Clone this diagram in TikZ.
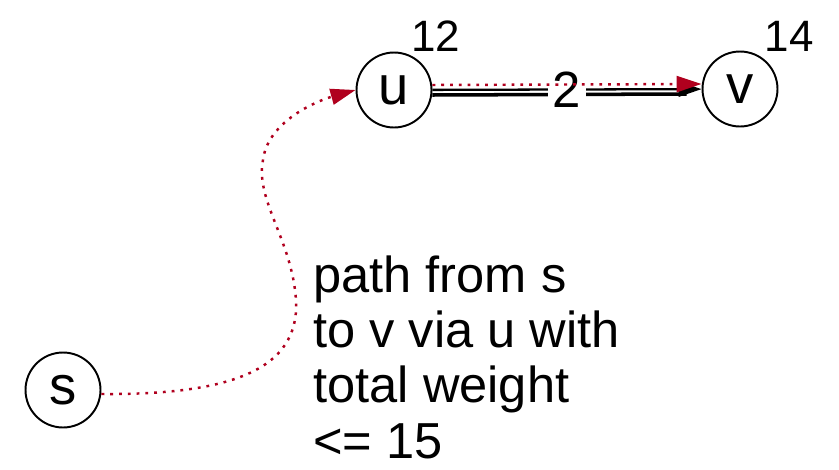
\documentclass[tikz,border=0pt]{standalone}
\usepackage{fontspec}
\setmainfont{Liberation Sans}
\usetikzlibrary{arrows.meta,positioning}
\definecolor{pathred}{HTML}{B0001E}
\definecolor{shade}{HTML}{E6E6E6}
\tikzset{>=Triangle,vtx/.style={circle,draw,line width=1.1pt,minimum size=1.5cm,inner sep=0pt,font=\fontsize{31}{33}\selectfont},edge/.style={->,line width=1.3pt,-{Triangle[length=0.46cm,width=0.3cm]}},redpath/.style={pathred,line width=1.4pt,dash pattern=on 1.6pt off 3.4pt,-{Triangle[length=0.5cm,width=0.32cm]}},wlabel/.style={fill=white,inner sep=3pt,font=\fontsize{29}{31}\selectfont},numlab/.style={font=\fontsize{25}{27}\selectfont,inner sep=0pt},txt/.style={align=left,inner sep=0pt,font=\fontsize{28.8}{31.5}\selectfont}}

\begin{document}
\begin{tikzpicture}[x=0.02cm,y=-0.02cm]
\useasboundingbox (0,0) rectangle (839,470);
% vertices
\node[vtx] (s) at (63,390) {s};
\node[vtx] (u) at (394,90) {u};
\node[vtx] (v) at (740,89) {v};
\node[numlab] (du) at (436,36) {12};
\node[numlab] (dv) at (789,36) {14};
% edge u -> v with its shadow
\draw[shade,line width=2pt] ([yshift=-0.1cm]u.east) -- ([yshift=-0.1cm,xshift=-0.3cm]v.west);
\draw[edge] (u) -- node[wlabel] (w) {2} (v);
% path s ~> u ~> v
\coordinate (c1) at (296,300);\coordinate (c2) at (263,160);
\draw[redpath] ([yshift=-0.08cm]s.east) .. controls (230,395) and (300,370) .. (c1) .. controls (292,240) and (255,200) .. (c2) .. controls (268,120) and (320,100) .. (u.west);
\draw[redpath] ([yshift=0.1cm]u.east) -- ([yshift=0.1cm]v.west);
\node[txt,anchor=north west] (note) at (313,255) {path from s\\to v via u with\\total weight\\<= 15};
\end{tikzpicture}
\end{document}
